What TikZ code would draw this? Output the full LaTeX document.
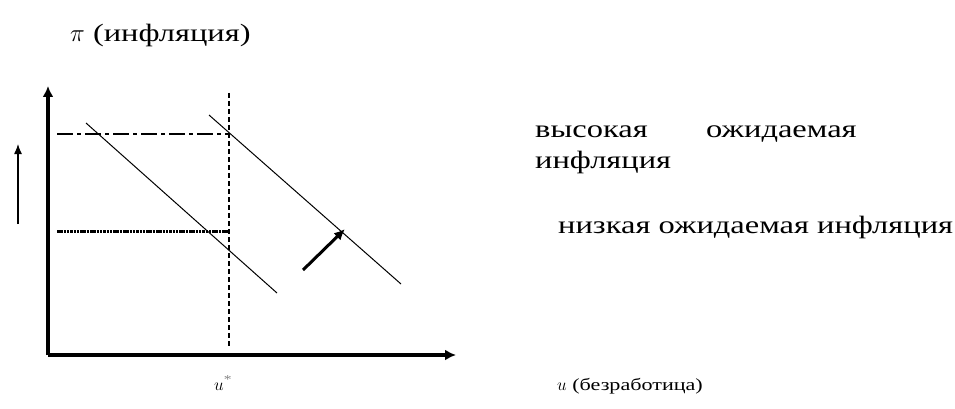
\documentclass[tikz,border=0pt]{standalone}
\usepackage{fontspec}
\setmainfont{Liberation Serif}
\newfontfamily\widefont[FakeStretch=1.3]{Liberation Serif}
\usetikzlibrary{arrows.meta}
\begin{document}
\begin{tikzpicture}[x=1pt,y=-1pt,
  axis/.style={line width=3.5pt,-{Latex[length=11pt,width=11pt]}},
  curve/.style={line width=1pt},
  lbl/.style={anchor=base west,inner sep=0pt,font=\widefont},
  shiftarrow/.style={line width=3pt,-{Latex[length=11pt,width=10pt]}}]
\useasboundingbox (0,0) rectangle (955,409);
% coordinates
\coordinate (O) at (48,355);
\coordinate (Ytip) at (48,86);
\coordinate (Xtip) at (456,355);
\coordinate (Vtop) at (229,93);
\coordinate (Vbot) at (229,347);
\coordinate (Hhi0) at (57,134);
\coordinate (Hhi1) at (229,134);
\coordinate (Hlo0) at (57,231);
\coordinate (Hlo1) at (229,231);
\coordinate (L0) at (86,123);
\coordinate (L1) at (277,293);
\coordinate (R0) at (209,115);
\coordinate (R1) at (401,284);
\coordinate (A0) at (303,270);
\coordinate (A1) at (345,229);
\coordinate (S0) at (18,224);
\coordinate (S1) at (18,144);
% axes
\draw[axis] (O) -- (Ytip);
\draw[axis] (O) -- (Xtip);
% guides
\draw[line width=1.2pt,dash pattern=on 5pt off 3pt] (Vtop) -- (Vbot);
\draw[line width=1.2pt,dash pattern=on 16pt off 4pt on 4pt off 4pt] (Hhi0) -- (Hhi1);
\draw[line width=3pt,dash pattern=on 2.5pt off 0.8pt] (Hlo0) -- (Hlo1);
% Phillips curves
\draw[curve] (L0) -- (L1);
\draw[curve] (R0) -- (R1);
% arrows
\draw[shiftarrow] (A0) -- (A1);
\draw[line width=1.3pt,-{Latex[length=10pt,width=8pt]}] (S0) -- (S1);
% labels
\node[lbl,font=\widefont\fontsize{25}{25}\selectfont] (ylab) at (70,42) {$\pi$ (инфляция)};
\node[lbl,font=\widefont\fontsize{17}{17}\selectfont] (xlab) at (557,390) {$u$ (безработица)};
\node[lbl,font=\widefont\fontsize{17}{17}\selectfont] (ustar) at (214,390) {$u$\textsuperscript{\textcolor{gray}{*}}};
\node[lbl,font=\widefont\fontsize{25}{25}\selectfont] (hi1) at (535,137) {высокая};
\node[lbl,font=\widefont\fontsize{25}{25}\selectfont] (hi2) at (706,137) {ожидаемая};
\node[lbl,font=\widefont\fontsize{25}{25}\selectfont] (hi3) at (535,168) {инфляция};
\node[lbl,font=\widefont\fontsize{25}{25}\selectfont] (lo) at (558,233) {низкая ожидаемая инфляция};
\end{tikzpicture}
\end{document}
